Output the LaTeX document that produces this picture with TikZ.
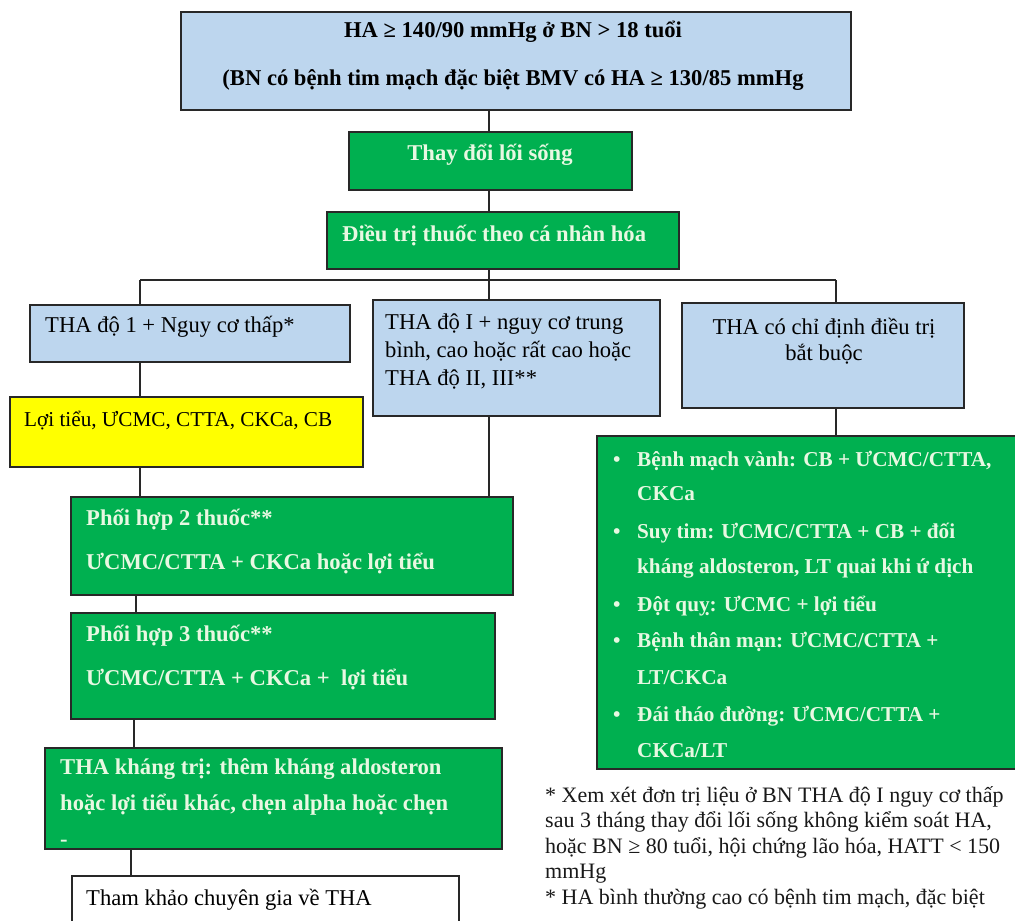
\documentclass[tikz,border=0pt]{standalone}
\usepackage{fontspec}
\setmainfont{Liberation Serif}
\definecolor{bxblue}{RGB}{189,214,238}
\definecolor{bxgreen}{RGB}{0,176,80}
\definecolor{bxyellow}{RGB}{255,255,0}
\definecolor{gtext}{RGB}{232,248,226}
\definecolor{edge}{RGB}{40,40,40}
\tikzset{
  boxbase/.style={draw=edge, line width=1.4pt, anchor=north west, inner sep=0pt, outer sep=0pt},
  bluebox/.style={boxbase, fill=bxblue},
  greenbox/.style={boxbase, fill=bxgreen},
  yellowbox/.style={boxbase, fill=bxyellow},
  whitebox/.style={boxbase, fill=white},
  tx/.style={inner sep=0pt, anchor=base west, text=black, font=\fontsize{22.6}{27}\selectfont},
  txs/.style={tx, font=\fontsize{21.2}{25}\selectfont},
  txc/.style={tx, anchor=base},
  txbc/.style={txc, font=\fontsize{22.6}{27}\selectfont\bfseries},
  gtx/.style={tx, text=gtext, font=\fontsize{22.6}{27}\selectfont\bfseries},
  gtxs/.style={gtx, font=\fontsize{21.2}{25}\selectfont\bfseries},
  gtxc/.style={gtx, anchor=base},
  foot/.style={tx, text=black!90, font=\fontsize{22}{26}\selectfont},
  link/.style={draw=edge, line width=1.3pt}
}
\begin{document}
\begin{tikzpicture}[x=1pt,y=-1pt]
\useasboundingbox (0,0) rectangle (1015,921);
\clip (0,0) rectangle (1015,921);
\fill[white] (0,0) rectangle (1015,921);
% boxes
\node[bluebox, minimum width=670pt, minimum height=98pt] (top) at (181,12) {};
\node[greenbox, minimum width=283pt, minimum height=58pt] (thay) at (349,132) {};
\node[greenbox, minimum width=352pt, minimum height=57pt] (dtri) at (327,212) {};
\node[bluebox, minimum width=320pt, minimum height=57pt] (low) at (30,305) {};
\node[bluebox, minimum width=287pt, minimum height=116pt] (mid) at (373,300) {};
\node[bluebox, minimum width=282pt, minimum height=105pt] (comp) at (682,303) {};
\node[yellowbox, minimum width=353pt, minimum height=70pt] (yel) at (10,397) {};
\node[greenbox, minimum width=442pt, minimum height=98pt] (ctwo) at (71,497) {};
\node[greenbox, minimum width=424pt, minimum height=106pt] (cthree) at (71,613) {};
\node[greenbox, minimum width=457pt, minimum height=101pt] (res) at (45,748) {};
\node[whitebox, minimum width=387pt, minimum height=80pt] (cons) at (72,876) {};
\node[greenbox, minimum width=440pt, minimum height=333pt] (list) at (597,436) {};
% connector coordinates
\coordinate (bus) at (489,280);
\coordinate (busL) at (140,280);
\coordinate (busR) at (836,280);
\coordinate (xb) at (136,0);
\coordinate (xc) at (134,0);
\coordinate (xd) at (131,0);
% connectors
\draw[link] (top.south -| bus) -- (thay.north -| bus);
\draw[link] (thay.south -| bus) -- (dtri.north -| bus);
\draw[link] (dtri.south -| bus) -- (bus);
\draw[link] (busL) -- (busR);
\draw[link] (busL) -- (low.north -| busL);
\draw[link] (bus) -- (mid.north -| bus);
\draw[link] (busR) -- (comp.north -| busR);
\draw[link] (low.south -| busL) -- (yel.north -| busL);
\draw[link] (yel.south -| busL) -- (ctwo.north -| busL);
\draw[link] (mid.south -| bus) -- (ctwo.north -| bus);
\draw[link] (comp.south -| busR) -- (list.north -| busR);
\draw[link] (ctwo.south -| xb) -- (cthree.north -| xb);
\draw[link] (cthree.south -| xc) -- (res.north -| xc);
\draw[link] (res.south -| xd) -- (cons.north -| xd);
% texts
\node[txbc] (ta) at (513,37) {HA ≥ 140/90 mmHg ở BN > 18 tuổi};
\node[txbc] (tb) at (513,85) {(BN có bệnh tim mạch đặc biệt BMV có HA ≥ 130/85 mmHg};
\node[gtxc] (tthay) at (490,160) {Thay đổi lối sống};
\node[gtx] (tdtri) at (342,241) {Điều trị thuốc theo cá nhân hóa};
\node[tx] (tlow) at (45,332) {THA độ 1 + Nguy cơ thấp*};
\node[tx] (tmida) at (385,329) {THA độ I + nguy cơ trung};
\node[tx] (tmidb) at (385,357) {bình, cao hoặc rất cao hoặc};
\node[tx] (tmidc) at (385,385) {THA độ II, III**};
\node[txc] (tcompa) at (824,334) {THA có chỉ định điều trị};
\node[txc] (tcompb) at (824,360) {bắt buộc};
\node[txs] (tyel) at (24,426) {Lợi tiểu, ƯCMC, CTTA, CKCa, CB};
\node[gtx] (ttwoa) at (86,525) {Phối hợp 2 thuốc**};
\node[gtx] (ttwob) at (86,569) {ƯCMC/CTTA + CKCa hoặc lợi tiểu};
\node[gtx] (tthreea) at (86,641) {Phối hợp 3 thuốc**};
\node[gtx] (tthreeb) at (86,685) {ƯCMC/CTTA + CKCa +~ lợi tiểu};
\node[gtx] (tresa) at (60,774) {THA kháng trị: thêm kháng aldosteron};
\node[gtx] (tresb) at (60,810) {hoặc lợi tiểu khác, chẹn alpha hoặc chẹn};
\node[gtx] (tresc) at (60,846) {-};
\node[tx] (tcons) at (86,905) {Tham khảo chuyên gia về THA};
% list
\node[gtxs] (b1) at (613,466) {•};
\node[gtxs] (l1) at (637,466) {Bệnh mạch vành: CB + ƯCMC/CTTA,};
\node[gtxs] (l2) at (637,500) {CKCa};
\node[gtxs] (b3) at (613,538) {•};
\node[gtxs] (l3) at (637,538) {Suy tim: ƯCMC/CTTA + CB + đối};
\node[gtxs] (l4) at (637,573) {kháng aldosteron, LT quai khi ứ dịch};
\node[gtxs] (b5) at (613,611) {•};
\node[gtxs] (l5) at (637,611) {Đột quỵ: ƯCMC + lợi tiểu};
\node[gtxs] (b6) at (613,647) {•};
\node[gtxs] (l6) at (637,647) {Bệnh thân mạn: ƯCMC/CTTA +};
\node[gtxs] (l7) at (637,684) {LT/CKCa};
\node[gtxs] (b8) at (613,721) {•};
\node[gtxs] (l8) at (637,721) {Đái tháo đường: ƯCMC/CTTA +};
\node[gtxs] (l9) at (637,757) {CKCa/LT};
% footnotes
\node[foot] (fa) at (545,802) {* Xem xét đơn trị liệu ở BN THA độ I nguy cơ thấp};
\node[foot] (fb) at (545,827.5) {sau 3 tháng thay đổi lối sống không kiểm soát HA,};
\node[foot] (fc) at (545,853) {hoặc BN ≥ 80 tuổi, hội chứng lão hóa, HATT < 150};
\node[foot] (fd) at (545,878.5) {mmHg};
\node[foot] (fe) at (545,904) {* HA bình thường cao có bệnh tim mạch, đặc biệt};
\end{tikzpicture}
\end{document}
